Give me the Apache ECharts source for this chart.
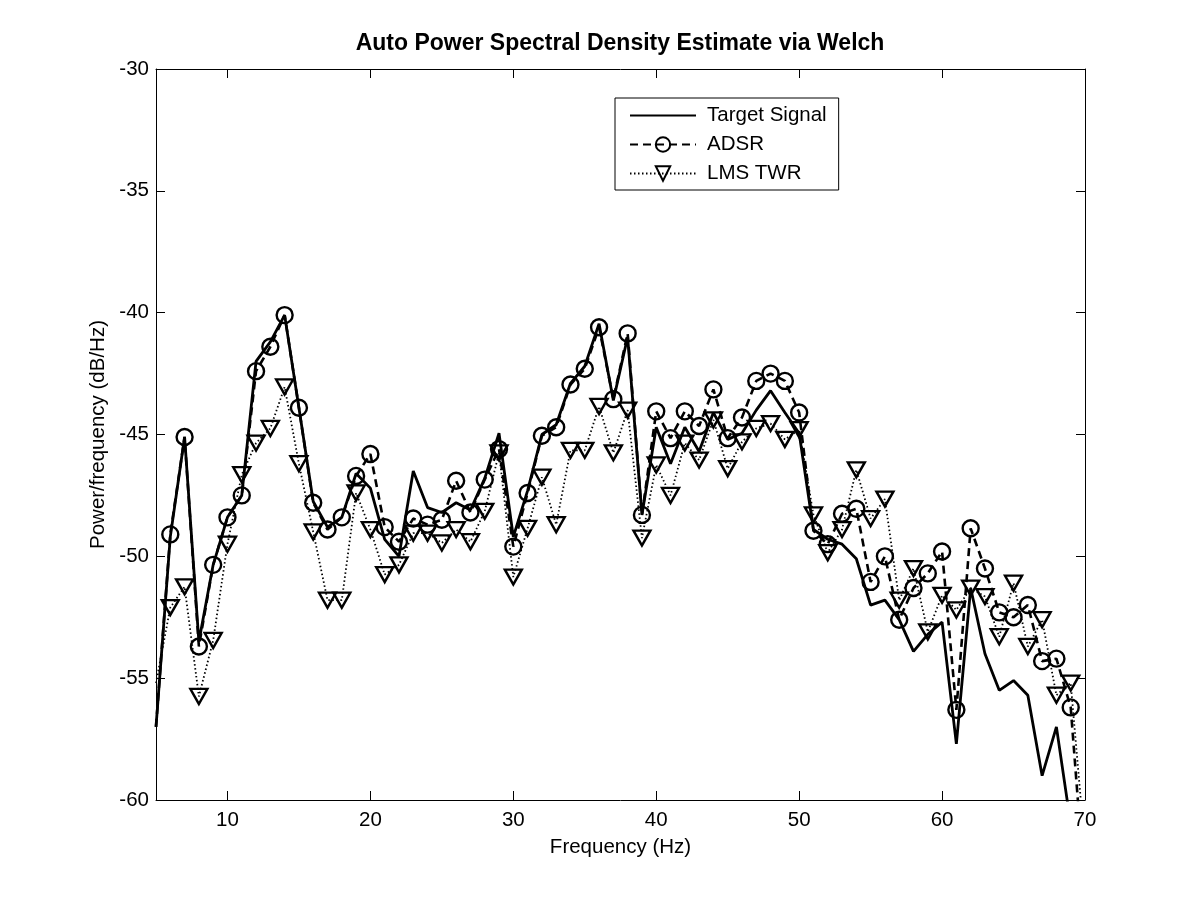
<!DOCTYPE html>
<html>
<head>
<meta charset="utf-8">
<script src="https://cdn.jsdelivr.net/npm/echarts@6/dist/echarts.min.js"></script>
<style>
  html, body { margin: 0; padding: 0; background: #fff; }
  #chart { width: 1200px; height: 900px; }
</style>
</head>
<body>
<div id="chart"></div>
<script>
// Frequencies (Hz); the 5 Hz value is where each line enters at the left edge (no marker drawn there)
const frequencies = [5,6,7,8,9,10,11,12,13,14,15,16,17,18,19,20,21,22,23,24,25,26,27,28,29,30,31,32,33,34,35,36,37,38,39,40,41,42,43,44,45,46,47,48,49,50,51,52,53,54,55,56,57,58,59,60,61,62,63,64,65,66,67,68,69,70];

const targetSignal = [-57.0,-49.2,-45.1,-53.5,-50.35,-48.4,-47.5,-42.0,-41.2,-40.1,-43.9,-47.75,-48.8,-48.4,-46.6,-47.2,-49.3,-50.0,-46.5,-48.0,-48.2,-47.8,-48.1,-46.8,-44.95,-49.2,-47.3,-45.0,-44.6,-42.9,-42.2,-40.45,-43.6,-41.0,-48.3,-44.7,-46.2,-44.7,-45.7,-44.1,-45.2,-44.95,-44.0,-43.2,-44.1,-44.95,-48.9,-49.3,-49.5,-50.1,-52.0,-51.8,-52.6,-53.9,-53.2,-52.7,-57.7,-51.3,-54.0,-55.5,-55.1,-55.7,-59.0,-57.0,-61.0,-63.0];

const adsr = [-57.0,-49.1,-45.1,-53.7,-50.35,-48.4,-47.5,-42.4,-41.4,-40.1,-43.9,-47.8,-48.9,-48.4,-46.7,-45.8,-48.8,-49.4,-48.45,-48.7,-48.5,-46.9,-48.2,-46.85,-45.6,-49.6,-47.4,-45.05,-44.7,-42.95,-42.3,-40.6,-43.55,-40.85,-48.3,-44.05,-45.15,-44.05,-44.65,-43.15,-45.15,-44.3,-42.8,-42.5,-42.8,-44.1,-48.95,-49.5,-48.25,-48.05,-51.05,-50.0,-52.6,-51.3,-50.7,-49.8,-56.3,-48.85,-50.5,-52.3,-52.5,-52.0,-54.3,-54.2,-56.2,-63.8];

const lmsTwr = [-55.2,-52.1,-51.25,-55.75,-53.45,-49.5,-46.65,-45.35,-44.75,-43.05,-46.2,-49.0,-51.8,-51.8,-47.4,-48.9,-50.75,-50.35,-49.05,-49.05,-49.45,-48.9,-49.4,-48.15,-45.75,-50.85,-48.85,-46.75,-48.7,-45.65,-45.65,-43.85,-45.75,-44.0,-49.25,-46.25,-47.5,-45.35,-46.05,-44.4,-46.4,-45.3,-44.75,-44.55,-45.2,-44.8,-48.3,-49.85,-48.9,-46.45,-48.45,-47.65,-51.8,-50.5,-53.1,-51.6,-52.2,-51.3,-51.65,-53.3,-51.1,-53.7,-52.6,-55.7,-55.2,-62.0];

const xTicks = [10,20,30,40,50,60,70];
const seriesNames = ['Target Signal', 'ADSR', 'LMS TWR'];

const FONT = 'Liberation Sans, Arial, Helvetica, sans-serif';
const FS = 20.5;
// first point sits on the left axis edge: draw the line there but no marker
const pairs = (ys) => frequencies.map((f, i) => (i === 0 ? { value: [f, ys[i]], symbol: 'none' } : [f, ys[i]]));

const chart = echarts.init(document.getElementById('chart'), null, { renderer: 'canvas' });

const baseX = {
  type: 'value', min: 5, max: 70,
  splitLine: { show: false },
  axisLine: { show: true, onZero: false, lineStyle: { color: '#000', width: 1 } },
  axisTick: { show: true, inside: true, length: 9, lineStyle: { color: '#000' }, customValues: xTicks },
};
const baseY = {
  type: 'value', min: -60, max: -30, interval: 5,
  splitLine: { show: false },
  axisLine: { show: true, onZero: false, lineStyle: { color: '#000', width: 1 } },
  axisTick: { show: true, inside: true, length: 9, lineStyle: { color: '#000' } },
};

chart.setOption({
  animation: false,
  backgroundColor: '#fff',
  textStyle: { fontFamily: FONT },
  grid: { left: 156, right: 115, top: 69, bottom: 100, containLabel: false },
  graphic: [{
    type: 'text', x: 620, y: 44,
    style: {
      text: 'Auto Power Spectral Density Estimate via Welch',
      fill: '#000', font: 'bold 23px ' + FONT,
      textAlign: 'center', textVerticalAlign: 'middle'
    }
  }],
  legend: {
    data: seriesNames,
    orient: 'vertical',
    left: 615, top: 98,
    padding: [7, 12, 6, 14],
    itemWidth: 66, itemHeight: 18, itemGap: 8,
    backgroundColor: '#fff',
    borderColor: '#000', borderWidth: 1, borderRadius: 0,
    textStyle: { fontSize: FS, color: '#000', fontFamily: FONT, padding: [0, 0, 0, 6] },
    selectedMode: false
  },
  xAxis: [
    Object.assign({}, baseX, {
      position: 'bottom',
      axisLabel: { show: true, fontSize: FS, color: '#000', margin: 10, fontFamily: FONT, customValues: xTicks },
      name: 'Frequency (Hz)', nameLocation: 'middle', nameGap: 37,
      nameTextStyle: { fontSize: FS, color: '#000', fontFamily: FONT }
    }),
    Object.assign({}, baseX, { position: 'top', axisLabel: { show: false } })
  ],
  yAxis: [
    Object.assign({}, baseY, {
      position: 'left',
      axisLabel: { show: true, fontSize: FS, color: '#000', margin: 7, fontFamily: FONT },
      name: 'Power/frequency (dB/Hz)', nameLocation: 'middle', nameGap: 45,
      nameTextStyle: { fontSize: FS, color: '#000', fontFamily: FONT }
    }),
    Object.assign({}, baseY, { position: 'right', axisLabel: { show: false } })
  ],
  series: [
    {
      name: seriesNames[0], type: 'line', data: pairs(targetSignal),
      xAxisIndex: 0, yAxisIndex: 0, clip: true,
      symbol: 'circle', symbolSize: 0, showSymbol: true,
      itemStyle: { color: 'rgba(0,0,0,0)', borderWidth: 0 },
      lineStyle: { color: '#000', width: 2.8, type: 'solid' },
      emphasis: { disabled: true }, z: 3
    },
    {
      name: seriesNames[1], type: 'line', data: pairs(adsr),
      xAxisIndex: 0, yAxisIndex: 0, clip: true,
      symbol: 'circle', symbolSize: 16,
      itemStyle: { color: 'rgba(0,0,0,0)', borderColor: '#000', borderWidth: 2.4 },
      lineStyle: { color: '#000', width: 2.6, type: [8, 5] },
      emphasis: { disabled: true }, z: 4
    },
    {
      name: seriesNames[2], type: 'line', data: pairs(lmsTwr),
      xAxisIndex: 0, yAxisIndex: 0, clip: true,
      symbol: 'triangle', symbolRotate: 180, symbolSize: [17, 15],
      itemStyle: { color: 'rgba(0,0,0,0)', borderColor: '#000', borderWidth: 2.4 },
      lineStyle: { color: '#000', width: 1.8, type: [1.5, 2.5] },
      emphasis: { disabled: true }, z: 5
    }
  ]
});
</script>
</body>
</html>
